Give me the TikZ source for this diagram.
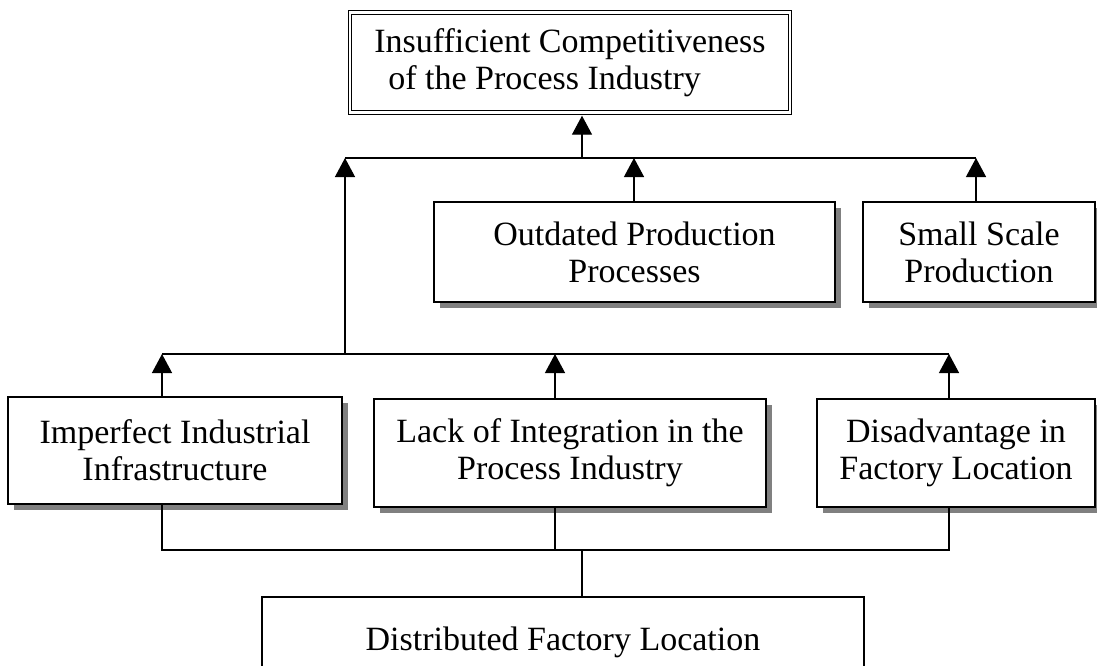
\documentclass[tikz,border=0pt]{standalone}
\usepackage{fontspec}
\setmainfont{Liberation Serif}
\usetikzlibrary{arrows.meta,shadows}
\tikzset{
  box/.style={draw, line width=1.3pt, fill=white, align=center, inner sep=0pt,
    font=\fontsize{34}{37}\selectfont},
  shadowed/.style={drop shadow={shadow xshift=6pt, shadow yshift=-6pt, fill=black!50, opacity=1}},
  conn/.style={line width=1.3pt},
  arr/.style={line width=1.3pt, -{Triangle[length=19pt,width=20pt]}},
}
\begin{document}
\begin{tikzpicture}[x=1pt,y=-1pt]
\fill[white] (0,0) rectangle (1097,665);
\useasboundingbox (0,0) rectangle (1097,665);

% boxes
\node[box, double, double distance=2.5pt, line width=1.2pt, minimum width=440pt, minimum height=100pt, align=left]
  (top) at (570,62.6) {Insufficient Competitiveness\\\hspace*{14pt}of the Process Industry};
\node[box, shadowed, minimum width=401pt, minimum height=100pt] (out) at (634.5,252) {Outdated Production\\Processes};
\node[box, shadowed, minimum width=232pt, minimum height=100pt] (small) at (979,252) {Small Scale\\Production};
\node[box, shadowed, minimum width=334pt, minimum height=107pt] (imp) at (175,450.5) {Imperfect Industrial\\Infrastructure};
\node[box, shadowed, minimum width=392pt, minimum height=108pt] (lack) at (570,453) {Lack of Integration in the\\Process Industry};
\node[box, shadowed, minimum width=278pt, minimum height=108pt] (dis) at (956,453) {Disadvantage in\\Factory Location};
\node[box, minimum width=602pt, minimum height=90pt] (bot) at (563,642) {Distributed Factory Location};

% bus coordinates
\coordinate (u1) at (345,158);
\coordinate (u2) at (582,158);
\coordinate (u3) at (634,158);
\coordinate (u4) at (976,158);
\coordinate (l1) at (162,354);
\coordinate (l2) at (345,354);
\coordinate (l3) at (555,354);
\coordinate (l4) at (949,354);
\coordinate (b1) at (162,550);
\coordinate (b2) at (555,550);
\coordinate (b3) at (582,550);
\coordinate (b4) at (949,550);

% upper level
\draw[conn] (u1) -- (u4);
\draw[arr, shorten >=2.5pt] (u2) -- (u2 |- top.south);
\draw[arr] (u3 |- out.north) -- (u3);
\draw[arr] (u4 |- small.north) -- (u4);

% middle level
\draw[conn] (l1) -- (l4);
\draw[arr] (l2) -- (u1);
\draw[arr] (l1 |- imp.north) -- (l1);
\draw[arr] (l3 |- lack.north) -- (l3);
\draw[arr] (l4 |- dis.north) -- (l4);

% lower level
\draw[conn] (b1 |- imp.south) -- (b1) -- (b4) -- (b4 |- dis.south);
\draw[conn] (b2 |- lack.south) -- (b2);
\draw[conn] (b3 |- bot.north) -- (b3);
\end{tikzpicture}
\end{document}
